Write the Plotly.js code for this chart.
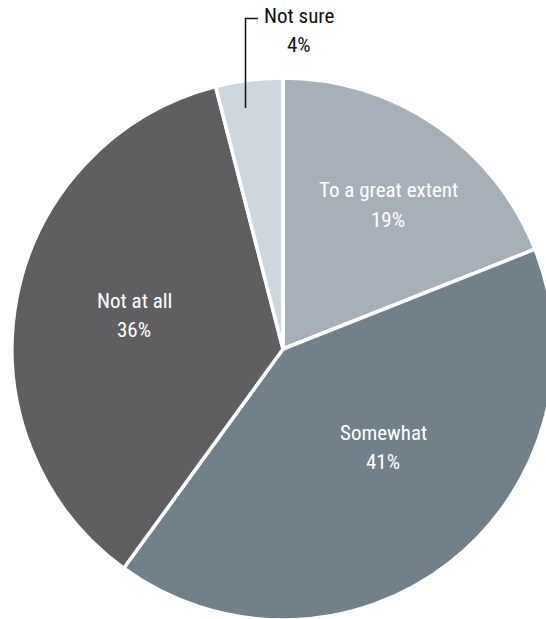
<!DOCTYPE html>
<html>
<head>
<meta charset="utf-8">
<script src="https://cdn.plot.ly/plotly-3.0.1.min.js"></script>
<style>
html,body{margin:0;padding:0;overflow:hidden;background:#fff;width:546px;height:619px;}
#chart{position:absolute;left:0;top:0;width:560px;height:640px;}
</style>
</head>
<body>
<div id="chart"></div>
<script>
const categories = ["To a great extent", "Somewhat", "Not at all", "Not sure"];
const percents = [19, 41, 36, 4];
const sliceColors = ["#a7b0b8", "#718089", "#5f5f61", "#ced7de"];

const W = 560, H = 640;
const cx = 283, cy = 349, R = 271;
const FONT = "'Liberation Sans Narrow', 'Roboto Condensed', Roboto, sans-serif";

// label centre positions in px (style / layout)
const labelPos = [[388, 205], [383, 447], [134, 315], [299, 31]];
const labelColors = ["#ffffff", "#ffffff", "#ffffff", "#111111"];
const lineGap = 29;

const annotations = [];
categories.forEach((name, i) => {
  const [px, py] = labelPos[i];
  [name, percents[i] + "%"].forEach((t, k) => {
    annotations.push({
      xref: "paper", yref: "paper",
      x: px / W, y: 1 - (py + (k === 0 ? -lineGap / 2 : lineGap / 2)) / H,
      text: t,
      showarrow: false,
      font: {family: FONT, size: 21, color: labelColors[i]},
      xanchor: "center", yanchor: "middle"
    });
  });
});

const data = [{
  type: "pie",
  labels: categories,
  values: percents,
  sort: false,
  direction: "clockwise",
  rotation: 0,
  textinfo: "none",
  hoverinfo: "label+percent",
  marker: {colors: sliceColors, line: {color: "#ffffff", width: 3.5}},
  domain: {x: [(cx - R) / W, (cx + R) / W], y: [1 - (cy + R) / H, 1 - (cy - R) / H]}
}];

const layout = {
  width: W, height: H,
  margin: {l: 0, r: 0, t: 0, b: 0},
  paper_bgcolor: "#ffffff",
  showlegend: false,
  annotations: annotations,
  shapes: [{
    type: "path", xref: "paper", yref: "paper",
    path: `M ${245.5 / W} ${1 - 108 / H} L ${245.5 / W} ${1 - 18.5 / H} L ${258 / W} ${1 - 18.5 / H}`,
    line: {color: "#111111", width: 1.5}
  }]
};

Plotly.newPlot("chart", data, layout, {displayModeBar: false, staticPlot: true});
</script>
</body>
</html>
